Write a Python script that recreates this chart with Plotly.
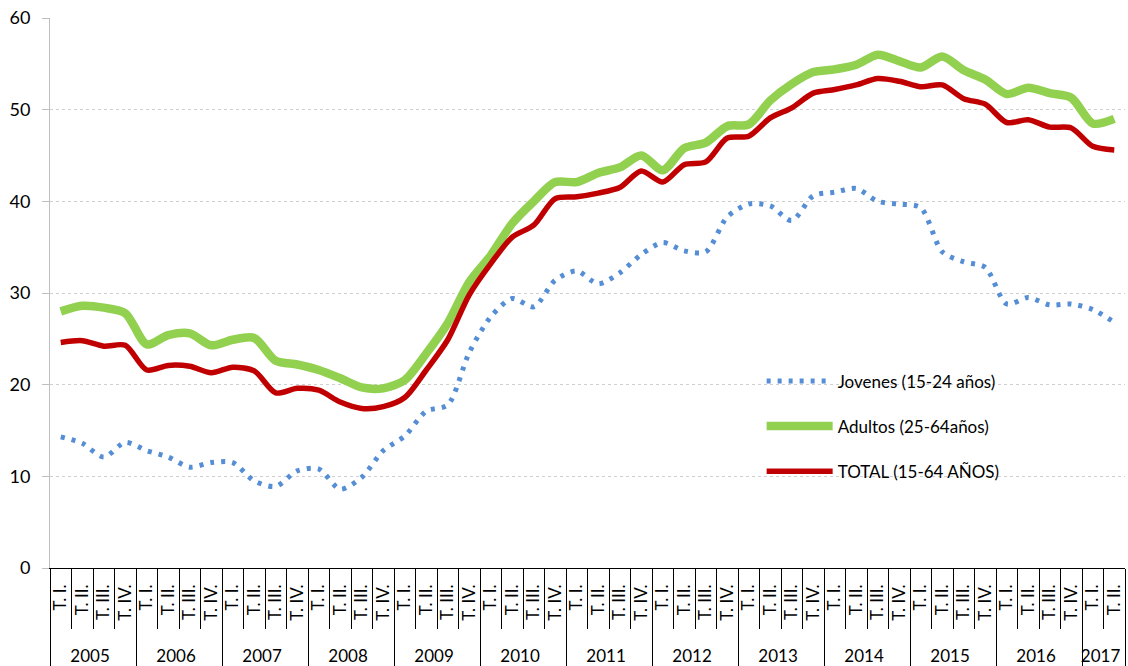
import plotly.graph_objects as go

years = ["2005"] * 4 + ["2006"] * 4 + ["2007"] * 4 + ["2008"] * 4 + ["2009"] * 4 + \
        ["2010"] * 4 + ["2011"] * 4 + ["2012"] * 4 + ["2013"] * 4 + ["2014"] * 4 + \
        ["2015"] * 4 + ["2016"] * 4 + ["2017"] * 2
quarters = ["T. I.", "T. II.", "T. III.", "T. IV."] * 12 + ["T. I.", "T. II."]

jovenes = [14.3, 13.6, 12.1, 13.7, 12.8, 12.1, 11.0, 11.5, 11.5, 9.5,
           8.9, 10.6, 10.8, 8.6, 9.9, 12.8, 14.4, 17.1, 17.8, 23.5,
           27.4, 29.4, 28.5, 31.4, 32.4, 31.0, 32.2, 34.2, 35.5, 34.6,
           34.5, 38.3, 39.7, 39.5, 37.9, 40.6, 41.0, 41.4, 40.0, 39.7,
           39.3, 34.5, 33.4, 32.8, 28.8, 29.5, 28.7, 28.8, 28.2, 26.8]
adultos = [28.0, 28.6, 28.4, 27.8, 24.4, 25.4, 25.6, 24.3, 24.9, 25.1,
           22.6, 22.2, 21.6, 20.7, 19.7, 19.6, 20.5, 23.4, 26.7, 31.2,
           34.1, 37.6, 40.0, 42.1, 42.1, 43.1, 43.7, 45.0, 43.4, 45.8,
           46.4, 48.2, 48.4, 51.0, 52.8, 54.1, 54.4, 54.9, 56.0, 55.3,
           54.6, 55.8, 54.3, 53.3, 51.7, 52.4, 51.8, 51.3, 48.5, 49.0]
total = [24.6, 24.8, 24.2, 24.3, 21.6, 22.1, 22.0, 21.3, 21.9, 21.5,
         19.1, 19.6, 19.4, 18.1, 17.4, 17.6, 18.6, 21.6, 24.9, 29.8,
         33.2, 36.1, 37.4, 40.3, 40.5, 40.9, 41.5, 43.3, 42.1, 44.0,
         44.3, 46.9, 47.1, 49.1, 50.2, 51.8, 52.2, 52.7, 53.4, 53.1,
         52.5, 52.7, 51.2, 50.6, 48.6, 48.9, 48.1, 48.0, 46.0, 45.6]

# rotated quarter labels: non-breaking spaces keep them off the axis line
# and push the year row down, as in the original table-like axis
NB = "\u00a0"
quarter_labels = [NB * 2 + q + NB * 2 for q in quarters]
x = [years, quarter_labels]
font_family = "Lato, Carlito, Calibri, sans-serif"

fig = go.Figure()
fig.add_trace(go.Scatter(
    x=x, y=jovenes, mode="lines", name="Jovenes (15-24 años)",
    line=dict(color="#558ED5", width=5, dash="4px,7px", shape="spline", smoothing=0.8),
    legendgroup="a"))
fig.add_trace(go.Scatter(
    x=x, y=adultos, mode="lines", name="Adultos (25-64años)",
    line=dict(color="#92D050", width=8.5, shape="spline", smoothing=0.8),
    legendgroup="b"))
fig.add_trace(go.Scatter(
    x=x, y=total, mode="lines", name="TOTAL (15-64 AÑOS)",
    line=dict(color="#C00000", width=5.5, shape="spline", smoothing=0.8),
    legendgroup="c"))

fig.update_layout(
    width=1128, height=666,
    margin=dict(l=50, r=3, t=18, b=98),
    paper_bgcolor="white", plot_bgcolor="white",
    font=dict(family=font_family, color="#000000", size=16),
    showlegend=True,
    legend=dict(
        x=0.662, y=0.372, xanchor="left", yanchor="top",
        bgcolor="rgba(0,0,0,0)", font=dict(size=17, color="#000000"),
        tracegroupgap=20, itemwidth=66,
    ),
)
fig.update_xaxes(
    type="multicategory", automargin=False, range=[-0.5, 49.5],
    tickmode="linear", tick0=0, dtick=1,
    showline=True, linecolor="#000000", linewidth=1,
    ticks="outside", tickson="boundaries", ticklen=60, tickcolor="#000000", tickwidth=1,
    tickangle=-90, tickfont=dict(size=17, color="#000000"),
    showdividers=True, dividercolor="#000000", dividerwidth=1,
    showgrid=False, zeroline=False,
)
fig.update_yaxes(
    range=[0, 60], dtick=10, automargin=False, ticklabeloverflow="allow",
    showline=True, linecolor="#BFBFBF", linewidth=1,
    ticks="outside", ticklen=7, tickcolor="#BFBFBF", ticklabelstandoff=8,
    tickfont=dict(size=18, color="#000000"),
    showgrid=True, gridcolor="#D0D0D0", griddash="dot", gridwidth=1,
    zeroline=False,
)

# remove the browser's default page margin so the figure fills the window
fig.write_html("out.html",
               config={"displayModeBar": False},
               post_script="document.body.style.margin='0px';")
